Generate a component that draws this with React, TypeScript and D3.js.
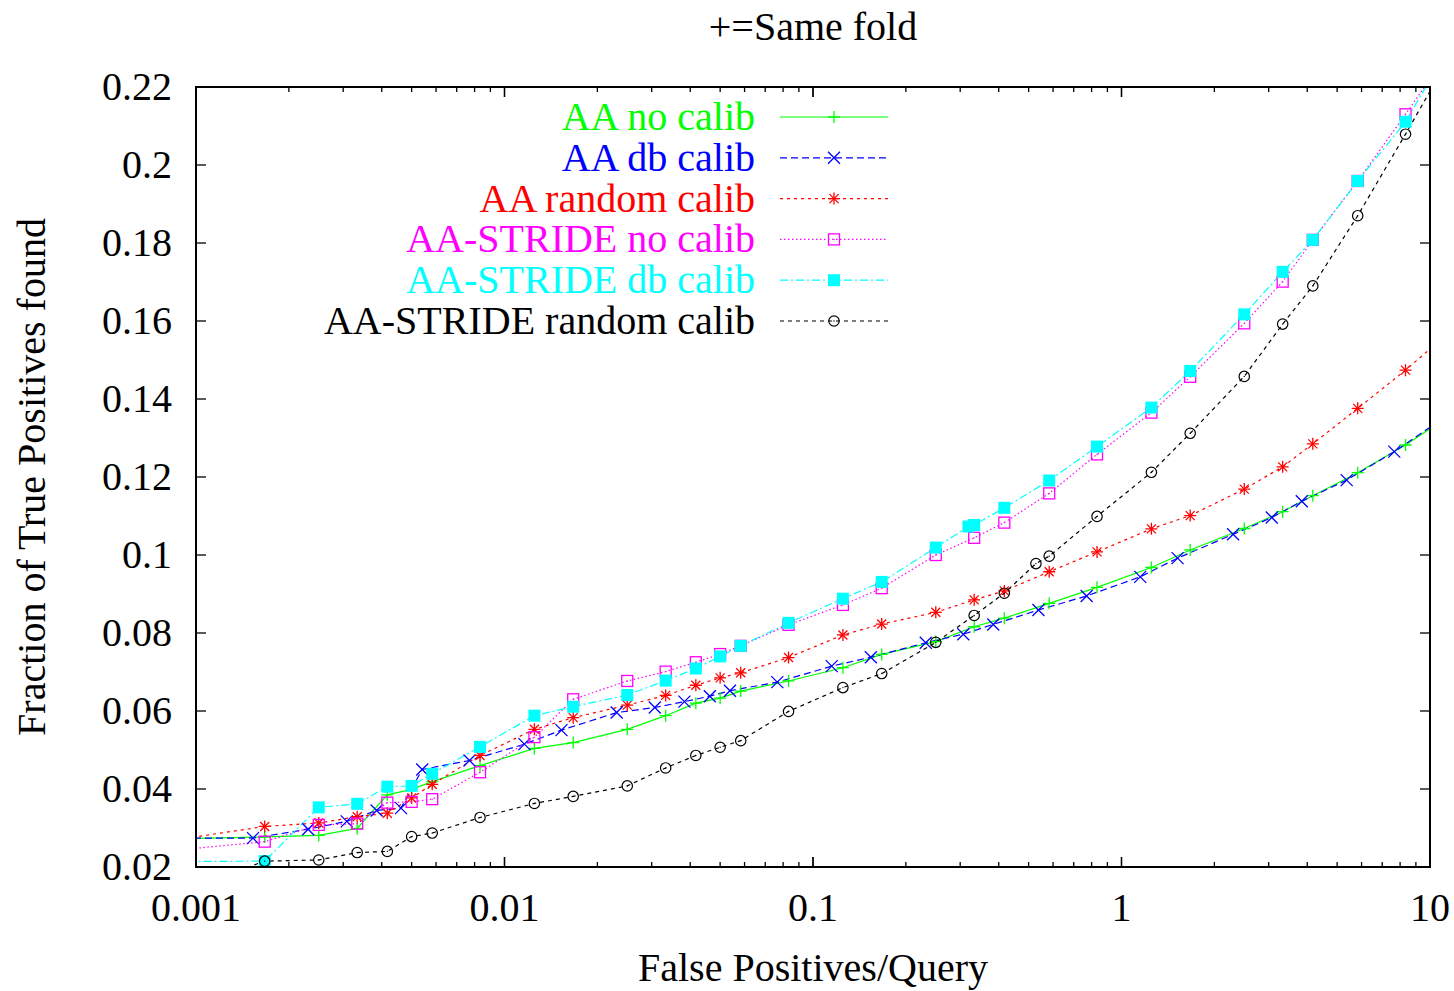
import { useEffect, useRef } from 'react';
import * as d3 from 'd3';

// false positives per query (shared grid for most curves)
const fpGrid = [0.000833, 0.00167, 0.0025, 0.00333, 0.00417, 0.005, 0.00583, 0.00833, 0.0125, 0.0167, 0.025, 0.0333, 0.0417, 0.05, 0.0583, 0.0833, 0.125, 0.167, 0.25, 0.333, 0.417, 0.583, 0.833, 1.25, 1.67, 2.5, 3.33, 4.17, 5.83, 8.33, 11.67];
const fpDbCalib = [0.00077, 0.00153, 0.00231, 0.00308, 0.00385, 0.00462, 0.00541, 0.0077, 0.0116, 0.0153, 0.0231, 0.0307, 0.0383, 0.0463, 0.0538, 0.0766, 0.115, 0.154, 0.232, 0.307, 0.384, 0.538, 0.771, 1.15, 1.52, 2.30, 3.07, 3.84, 5.37, 7.66, 11.5];
const fpStrideDb = [0.000833, 0.00167, 0.0025, 0.00333, 0.00417, 0.005, 0.00583, 0.00833, 0.0125, 0.0167, 0.025, 0.0333, 0.0417, 0.05, 0.0583, 0.0833, 0.125, 0.167, 0.25, 0.319, 0.333, 0.417, 0.583, 0.833, 1.25, 1.67, 2.5, 3.33, 4.17, 5.83, 8.33, 11.67];
const fpStrideRandom = [0.000833, 0.00167, 0.0025, 0.00333, 0.00417, 0.005, 0.00583, 0.00833, 0.0125, 0.0167, 0.025, 0.0333, 0.0417, 0.05, 0.0583, 0.0833, 0.125, 0.167, 0.25, 0.333, 0.417, 0.528, 0.583, 0.833, 1.25, 1.67, 2.5, 3.33, 4.17, 5.83, 8.33, 11.67];

// fraction of true positives found
const aaNoCalib = [0.0272, 0.0277, 0.0281, 0.0299, 0.0385, 0.0399, 0.0419, 0.0460, 0.0504, 0.0519, 0.0553, 0.0588, 0.0620, 0.0633, 0.0651, 0.0677, 0.0711, 0.0745, 0.0778, 0.0816, 0.0838, 0.0876, 0.0917, 0.0968, 0.1013, 0.1068, 0.1111, 0.1152, 0.1211, 0.1282, 0.1359];
const aaDbCalib = [0.0274, 0.0274, 0.0297, 0.0317, 0.0345, 0.0351, 0.0450, 0.0473, 0.0515, 0.0551, 0.0596, 0.0609, 0.0624, 0.0638, 0.0652, 0.0674, 0.0715, 0.0738, 0.0775, 0.0797, 0.0822, 0.0859, 0.0895, 0.0944, 0.0992, 0.1053, 0.1096, 0.1138, 0.1192, 0.1265, 0.1360];
const aaRandomCalib = [0.0268, 0.0304, 0.0313, 0.0329, 0.0338, 0.0377, 0.0412, 0.0486, 0.0553, 0.0583, 0.0615, 0.0640, 0.0666, 0.0685, 0.0698, 0.0737, 0.0795, 0.0823, 0.0853, 0.0885, 0.0908, 0.0957, 0.1008, 0.1067, 0.1101, 0.1169, 0.1226, 0.1285, 0.1376, 0.1474, 0.1574];
const strideNoCalib = [0.0242, 0.0265, 0.0308, 0.0311, 0.0365, 0.0367, 0.0374, 0.0443, 0.0533, 0.0630, 0.0677, 0.0701, 0.0725, 0.0746, 0.0767, 0.0821, 0.0872, 0.0915, 0.1000, 0.1044, 0.1083, 0.1158, 0.1258, 0.1365, 0.1457, 0.1594, 0.1701, 0.1808, 0.1959, 0.2130, 0.2296];
const strideDbCalib = [0.0214, 0.0215, 0.0353, 0.0362, 0.0406, 0.0408, 0.0439, 0.0508, 0.0588, 0.0611, 0.0641, 0.0678, 0.0709, 0.0740, 0.0767, 0.0826, 0.0888, 0.0931, 0.1019, 0.1073, 0.1077, 0.1121, 0.1191, 0.1278, 0.1378, 0.1472, 0.1617, 0.1726, 0.1808, 0.1959, 0.2111, 0.2310];
const strideRandomCalib = [0.0129, 0.0215, 0.0218, 0.0237, 0.0240, 0.0278, 0.0287, 0.0327, 0.0363, 0.0381, 0.0408, 0.0454, 0.0486, 0.0507, 0.0524, 0.0599, 0.0660, 0.0696, 0.0776, 0.0845, 0.0902, 0.0978, 0.0997, 0.1099, 0.1212, 0.1312, 0.1458, 0.1592, 0.1690, 0.1870, 0.2079, 0.2282];

const seriesNames = ['AA no calib', 'AA db calib', 'AA random calib', 'AA-STRIDE no calib', 'AA-STRIDE db calib', 'AA-STRIDE random calib'];
const xTicks = [0.001, 0.01, 0.1, 1, 10];
const xTickLabels = ['0.001', '0.01', '0.1', '1', '10'];
const yTicks = [0.02, 0.04, 0.06, 0.08, 0.1, 0.12, 0.14, 0.16, 0.18, 0.2, 0.22];
const yTickLabels = ['0.02', '0.04', '0.06', '0.08', '0.1', '0.12', '0.14', '0.16', '0.18', '0.2', '0.22'];

const series = [
    { name: seriesNames[0], xs: fpGrid, ys: aaNoCalib, color: '#00ff00', dash: null, marker: 'plus' },
    { name: seriesNames[1], xs: fpDbCalib, ys: aaDbCalib, color: '#0000ff', dash: '7,4', marker: 'cross' },
    { name: seriesNames[2], xs: fpGrid, ys: aaRandomCalib, color: '#ff0000', dash: '3,4', marker: 'star' },
    { name: seriesNames[3], xs: fpGrid, ys: strideNoCalib, color: '#ff00ff', dash: '1.5,2.5', marker: 'box' },
    { name: seriesNames[4], xs: fpStrideDb, ys: strideDbCalib, color: '#00ffff', dash: '8,3,2,3', marker: 'fbox' },
    { name: seriesNames[5], xs: fpStrideRandom, ys: strideRandomCalib, color: '#000000', dash: '4,4', marker: 'circle' },
];

const FONT = '"Liberation Serif", "Times New Roman", serif';

const drawMarker = (g, type, x, y, color) => {
    const s = 6;
    if (type === 'plus' || type === 'star') {
        g.append('path').attr('d', `M${x - s},${y}H${x + s}M${x},${y - s}V${y + s}`)
            .attr('stroke', color).attr('stroke-width', 1.3).attr('fill', 'none');
    }
    if (type === 'cross' || type === 'star') {
        const c = type === 'star' ? 4.5 : 6;
        g.append('path').attr('d', `M${x - c},${y - c}L${x + c},${y + c}M${x - c},${y + c}L${x + c},${y - c}`)
            .attr('stroke', color).attr('stroke-width', 1.3).attr('fill', 'none');
    }
    if (type === 'box') {
        g.append('rect').attr('x', x - 5.5).attr('y', y - 5.5).attr('width', 11).attr('height', 11)
            .attr('stroke', color).attr('stroke-width', 1.3).attr('fill', 'none');
        g.append('circle').attr('cx', x).attr('cy', y).attr('r', 0.7).attr('fill', color);
    }
    if (type === 'fbox') {
        g.append('rect').attr('x', x - 6).attr('y', y - 6).attr('width', 12).attr('height', 12)
            .attr('fill', color);
    }
    if (type === 'circle') {
        g.append('circle').attr('cx', x).attr('cy', y).attr('r', 5.2)
            .attr('stroke', color).attr('stroke-width', 1.2).attr('fill', 'none');
        g.append('circle').attr('cx', x).attr('cy', y).attr('r', 0.7).attr('fill', color);
    }
};

const App = () => {
    const ref = useRef(null);

    useEffect(() => {
        const width = 1454;
        const height = 991;
        const margin = { left: 196, right: 24, top: 87, bottom: 124 };
        const x0 = margin.left, x1 = width - margin.right;
        const y0 = margin.top, y1 = height - margin.bottom;

        const svg = d3.select(ref.current);
        svg.selectAll('*').remove();

        const xScale = d3.scaleLog().domain([0.001, 10]).range([x0, x1]);
        const yScale = d3.scaleLinear().domain([0.02, 0.22]).range([y1, y0]);

        svg.append('defs').append('clipPath').attr('id', 'plot-clip')
            .append('rect').attr('x', x0).attr('y', y0).attr('width', x1 - x0).attr('height', y1 - y0);

        // ticks (inward, mirrored)
        const ticks = svg.append('g').attr('stroke', '#000').attr('stroke-width', 1.3);
        yTicks.forEach(v => {
            const y = yScale(v);
            ticks.append('line').attr('x1', x0).attr('x2', x0 + 10).attr('y1', y).attr('y2', y);
            ticks.append('line').attr('x1', x1).attr('x2', x1 - 10).attr('y1', y).attr('y2', y);
        });
        for (let e = -3; e < 1; e++) {
            for (let m = 1; m <= 10; m++) {
                const v = m * Math.pow(10, e);
                const x = xScale(v);
                const len = (m === 1 || m === 10) ? 10 : 5;
                ticks.append('line').attr('x1', x).attr('x2', x).attr('y1', y1).attr('y2', y1 - len);
                ticks.append('line').attr('x1', x).attr('x2', x).attr('y1', y0).attr('y2', y0 + len);
            }
        }

        // tick labels
        const labels = svg.append('g').attr('font-family', FONT).attr('font-size', 40).attr('fill', '#000');
        yTicks.forEach((v, i) => {
            labels.append('text').attr('x', 172).attr('y', yScale(v) + 13)
                .attr('text-anchor', 'end').text(yTickLabels[i]);
        });
        xTicks.forEach((v, i) => {
            labels.append('text').attr('x', xScale(v)).attr('y', 921)
                .attr('text-anchor', 'middle').text(xTickLabels[i]);
        });

        // curves
        const line = d3.line().x(d => xScale(d[0])).y(d => yScale(d[1]));
        const plot = svg.append('g').attr('clip-path', 'url(#plot-clip)');
        series.forEach(s => {
            const pts = s.xs.map((x, i) => [x, s.ys[i]]);
            plot.append('path').datum(pts).attr('d', line)
                .attr('fill', 'none').attr('stroke', s.color).attr('stroke-width', 1.2)
                .attr('stroke-dasharray', s.dash);
        });
        const marks = svg.append('g');
        series.forEach(s => {
            s.xs.forEach((x, i) => {
                const y = s.ys[i];
                if (x < 0.001 || x > 10 || y < 0.02 || y > 0.22) return;
                drawMarker(marks, s.marker, xScale(x), yScale(y), s.color);
            });
        });

        // legend
        const legend = svg.append('g');
        series.forEach((s, i) => {
            const ly = 117 + i * 40.8;
            legend.append('text').attr('x', 755).attr('y', ly + 13)
                .attr('text-anchor', 'end').attr('font-family', FONT).attr('font-size', 40)
                .attr('fill', s.color).text(s.name);
            legend.append('line').attr('x1', 780).attr('x2', 888).attr('y1', ly).attr('y2', ly)
                .attr('stroke', s.color).attr('stroke-width', 1.2).attr('stroke-dasharray', s.dash);
            drawMarker(legend, s.marker, 834, ly, s.color);
        });

        // frame
        svg.append('rect').attr('x', x0).attr('y', y0).attr('width', x1 - x0).attr('height', y1 - y0)
            .attr('fill', 'none').attr('stroke', '#000').attr('stroke-width', 2);

        // titles
        svg.append('text').attr('x', (x0 + x1) / 2).attr('y', 40).attr('text-anchor', 'middle')
            .attr('font-family', FONT).attr('font-size', 40).text('+=Same fold');
        svg.append('text').attr('x', (x0 + x1) / 2).attr('y', 981).attr('text-anchor', 'middle')
            .attr('font-family', FONT).attr('font-size', 40).text('False Positives/Query');
        svg.append('text').attr('transform', `translate(45, ${(y0 + y1) / 2}) rotate(-90)`)
            .attr('text-anchor', 'middle').attr('font-family', FONT).attr('font-size', 40)
            .text('Fraction of True Positives found');
    }, []);

    return (
        <div style={{ position: 'absolute', left: 0, top: 0 }}>
            <svg ref={ref} width={1454} height={991} style={{ display: 'block', background: '#fff' }}></svg>
        </div>
    );
};

export default App;
